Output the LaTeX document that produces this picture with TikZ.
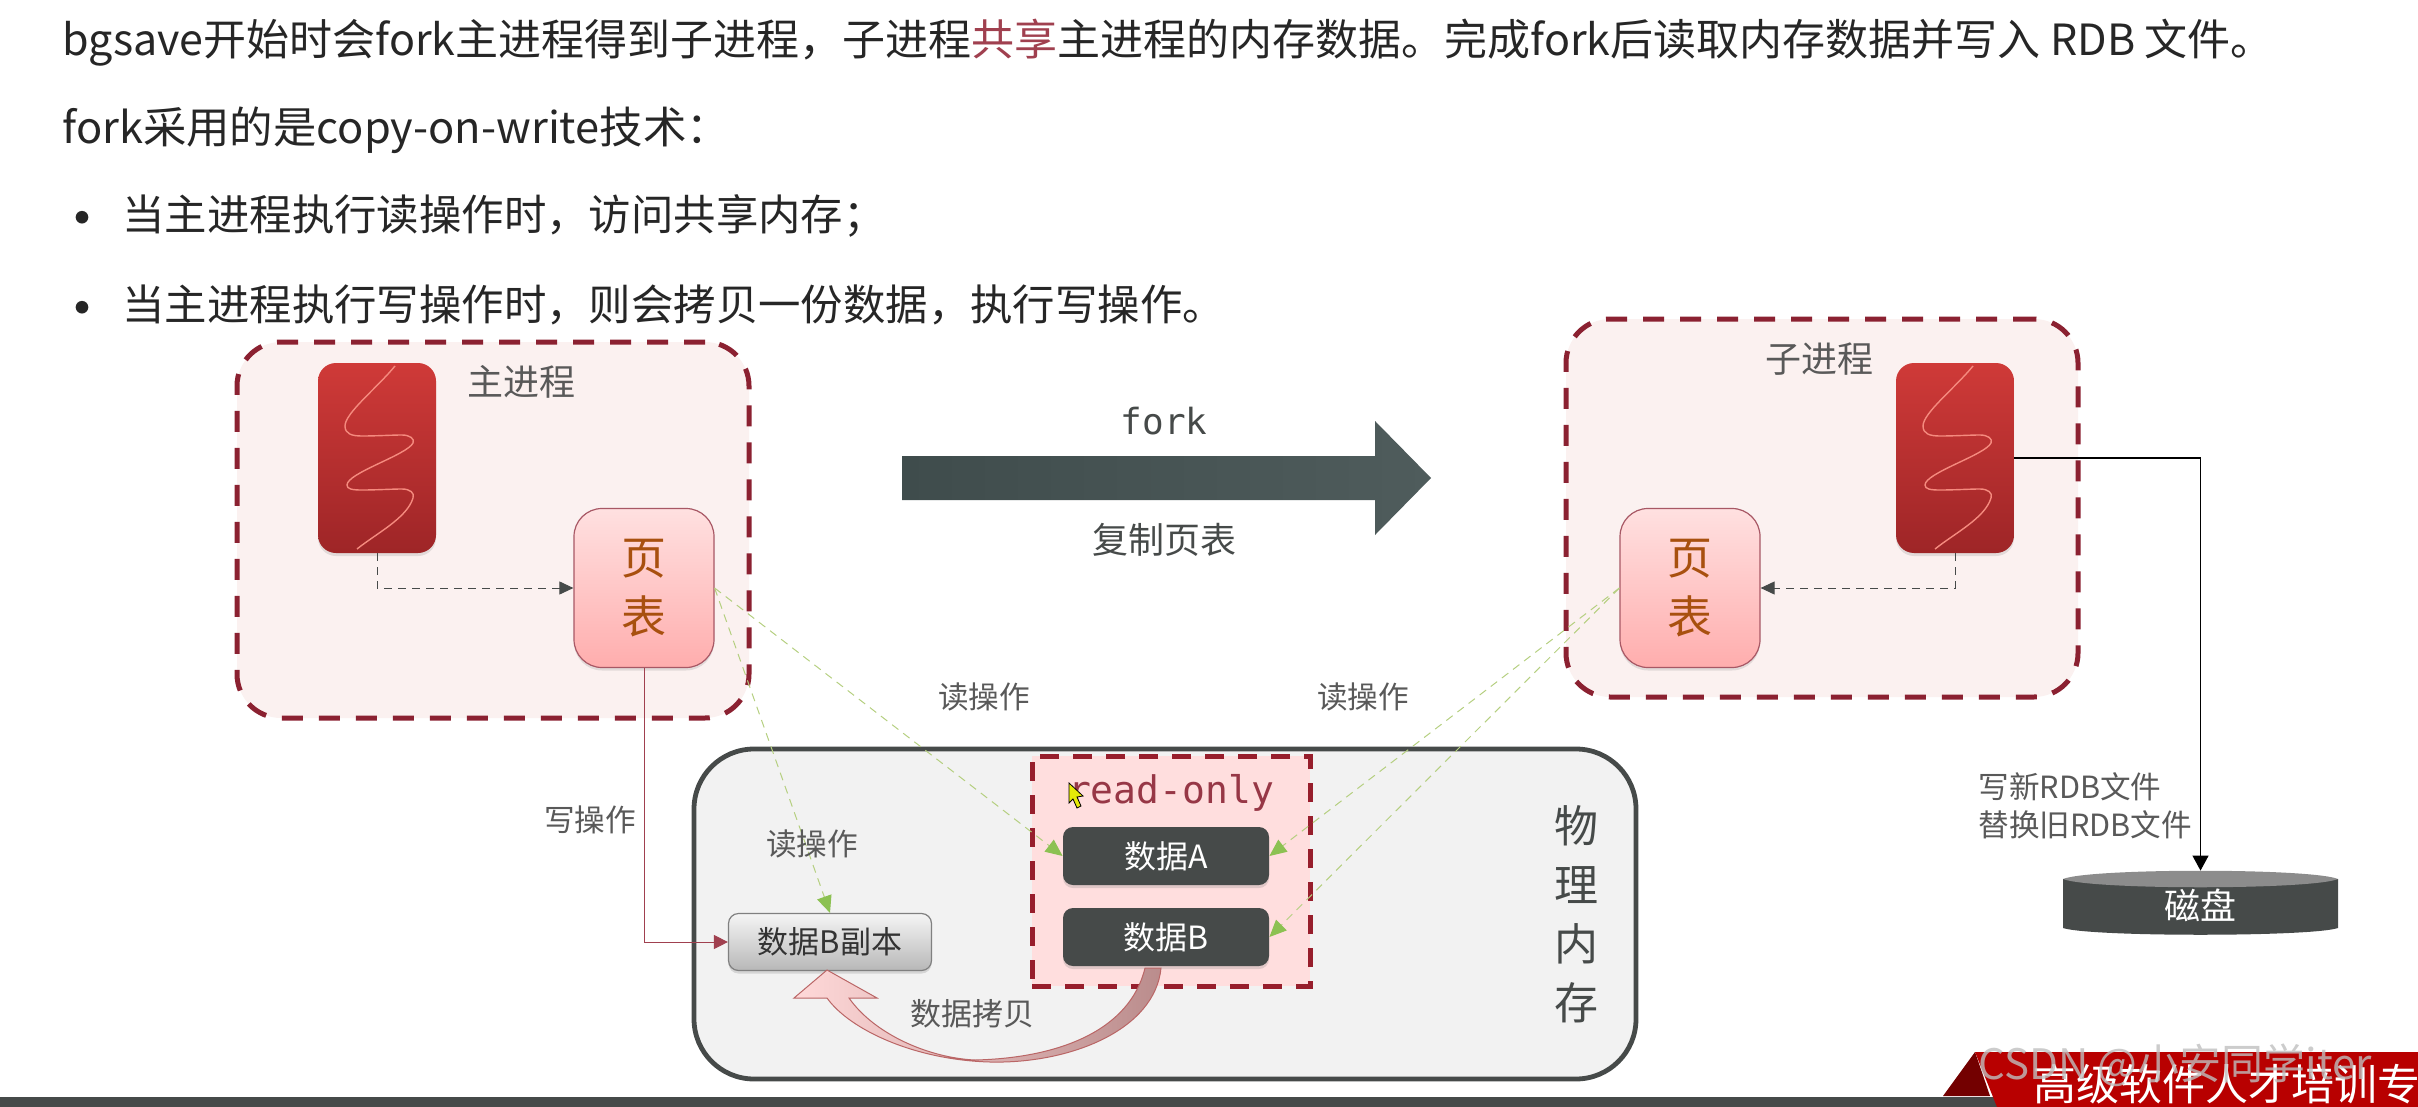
\documentclass[tikz,border=0pt]{standalone}
\usepackage{fontspec}
\setmainfont{Noto Sans CJK SC}
\setmonofont{DejaVu Sans Mono}
\usetikzlibrary{arrows.meta, shadows}

\definecolor{procdash}{HTML}{8B2131}
\definecolor{procfill}{HTML}{FBF1F0}
\definecolor{labelgray}{HTML}{595959}
\definecolor{slate}{HTML}{464A49}
\definecolor{readgreen}{HTML}{8CC152}
\definecolor{readline}{HTML}{B5CF80}
\definecolor{writered}{HTML}{A0404F}
\definecolor{tabletext}{HTML}{A8500F}
\definecolor{threadtop}{HTML}{CF3A38}
\definecolor{threadbottom}{HTML}{9E2527}
\definecolor{wavecolor}{HTML}{F58A7E}
\definecolor{forkleft}{HTML}{3F4C4C}
\definecolor{forkright}{HTML}{4F5C5C}

\tikzset{
    procbox/.style={draw=procdash, fill=procfill, line width=2.5pt, dash pattern=on 10.5pt off 8pt,
        rounded corners=22pt, minimum width=256pt, minimum height=188pt, inner sep=0pt},
    threadbox/.style={rounded corners=9pt, top color=threadtop, bottom color=threadbottom,
        minimum width=59pt, minimum height=95pt, inner sep=0pt,
        drop shadow={shadow xshift=0pt, shadow yshift=-1.5pt, opacity=.2}},
    tablebox/.style={draw=procdash!75, line width=.6pt, rounded corners=14pt, top color=red!12, bottom color=red!32,
        minimum width=70pt, minimum height=79.5pt, inner sep=0pt, align=center, text=tabletext,
        font=\fontsize{22.5}{29.5}\selectfont,
        drop shadow={shadow xshift=0pt, shadow yshift=-1.5pt, opacity=.2}},
    databox/.style={fill=slate, rounded corners=5pt, minimum width=103pt, minimum height=29pt, inner sep=0pt,
        text=white, font=\fontsize{16}{18}\selectfont,
        drop shadow={shadow xshift=0pt, shadow yshift=-1.5pt, opacity=.25}},
    notelabel/.style={text=labelgray, inner sep=0pt, font=\fontsize{15.3}{19}\selectfont},
    toptext/.style={anchor=west, inner sep=0pt, text=black!85, font=\fontsize{21.2}{24}\selectfont},
    threadline/.style={slate, line width=.5pt, dash pattern=on 4pt off 3pt,
        -{Triangle[length=7pt,width=6.5pt]}},
    readarrow/.style={readline, line width=.5pt, dash pattern=on 4pt off 3pt,
        -{Triangle[length=8.5pt,width=7.5pt,color=readgreen]}},
    threadwave/.pic={
        \draw[draw=wavecolor, line width=.7pt]
            (18,-92) .. controls (0,-70) and (-32,-45) .. (-32,-32)
            .. controls (-32,-24) and (-25,-22) .. (-15,-22)
            .. controls (0,-22) and (15,-23) .. (25,-23)
            .. controls (33,-23) and (38,-19) .. (36,-15)
            .. controls (30,-3) and (-30,15) .. (-30,27)
            .. controls (-30,31) and (-25,32) .. (-15,32)
            .. controls (0,32) and (15,31) .. (25,31)
            .. controls (33,31) and (38,35) .. (36,40)
            .. controls (30,60) and (0,75) .. (-20,91);
    }
}

\begin{document}
\begin{tikzpicture}[x=0.5pt, y=-0.5pt, >=stealth]
    \useasboundingbox (0,0) rectangle (2418,1107);

    % Top text
    \node[toptext, font=\fontsize{21.5}{24}\selectfont] (lineA) at (62,43) {bgsave开始时会fork主进程得到子进程，子进程\textcolor{writered}{共享}主进程的内存数据。完成fork后读取内存数据并写入 RDB 文件。};
    \node[toptext, font=\fontsize{21.7}{24}\selectfont] (lineB) at (62,130) {fork采用的是copy-on-write技术：};
    \node[toptext, font=\fontsize{30}{30}\selectfont] (bulletA) at (52,226) {•};
    \node[toptext] (lineC) at (122,216) {当主进程执行读操作时，访问共享内存；};
    \node[toptext, font=\fontsize{30}{30}\selectfont] (bulletB) at (52,316) {•};
    \node[toptext] (lineD) at (122,305) {当主进程执行写操作时，则会拷贝一份数据，执行写操作。};

    % Processes
    \node[procbox] (mainProc) at (493,530) {};
    \node[procbox, minimum height=189pt] (childProc) at (1822,508) {};
    \node[notelabel, font=\fontsize{18}{20}\selectfont] (mainTitle) at (521,382) {主进程};
    \node[notelabel, font=\fontsize{18}{20}\selectfont] (childTitle) at (1819,359) {子进程};

    \node[threadbox] (threadMain) at (377,458) {};
    \pic at (threadMain) {threadwave};
    \node[tablebox] (pageMain) at (644,588) {页\\表};
    \node[threadbox] (threadChild) at (1955,458) {};
    \pic at (threadChild) {threadwave};
    \node[tablebox] (pageChild) at (1690,588) {页\\表};

    \draw[threadline] (threadMain.south) |- (pageMain.west);
    \draw[threadline] (threadChild.south) |- (pageChild.east);

    % Fork arrow
    \shade[left color=forkleft, right color=forkright]
        (902,456) -- (1375,456) -- (1375,421) -- (1431,478) -- (1375,535) -- (1375,500) -- (902,500) -- cycle;
    \node[text=slate, inner sep=0pt, font=\ttfamily\fontsize{18}{20}\selectfont] (forkLabel) at (1164,421) {fork};
    \node[text=slate, inner sep=0pt, font=\fontsize{18}{20}\selectfont] (copyLabel) at (1164,540) {复制页表};

    % Physical memory
    \node[draw=slate, fill=black!5, line width=2.4pt, rounded corners=30pt, minimum width=471pt, minimum height=165pt] (physMem) at (1165,914) {};
    \node[draw=procdash!90!red, fill=red!13!white, line width=2.5pt, dash pattern=on 9.5pt off 7pt,
        minimum width=139pt, minimum height=115pt, inner sep=0pt] (readOnly) at (1171,871) {};
    \node[text=procdash!90, inner sep=0pt, font=\ttfamily\fontsize{19}{21}\selectfont] (readLabel) at (1171,793) {read-only};
    \filldraw[fill=yellow!90!green, draw=black, line width=.4pt]
        (1069,783) -- (1069,803) -- (1073,799) -- (1077,808) -- (1081,806) -- (1077,797) -- (1083,796) -- cycle;
    \node[databox] (dataA) at (1166,856) {数据A};
    \node[databox] (dataB) at (1166,937) {数据B};
    \node[draw=black!50, line width=.6pt, rounded corners=5pt, top color=black!4, bottom color=black!28,
        minimum width=101.5pt, minimum height=28.5pt, inner sep=0pt, text=black!80, font=\fontsize{15.5}{18}\selectfont,
        drop shadow={shadow xshift=0pt, shadow yshift=-1.5pt, opacity=.25}] (copyB) at (830,942) {数据B副本};
    \node[text=slate, inner sep=0pt, align=center, font=\fontsize{22}{29.5}\selectfont] (physLabel) at (1576,914) {物\\理\\内\\存};

    % Read and write lines
    \draw[readarrow] (pageMain.east) -- (dataA.west);
    \draw[readarrow] (pageMain.east) -- (copyB.north);
    \draw[readarrow] (pageChild.west) -- (dataA.east);
    \draw[readarrow] (pageChild.west) -- (dataB.east);
    \draw[writered, line width=.5pt, -{Triangle[length=7pt,width=7pt]}] (pageMain.south) |- (copyB.west);
    \node[notelabel] (readMain) at (984,697) {读操作};
    \node[notelabel] (readChild) at (1363,697) {读操作};
    \node[notelabel] (readCopy) at (812,844) {读操作};
    \node[notelabel] (writeMain) at (590,820) {写操作};

    % Copy arrow
    \draw[draw=red!55!black!60, line width=.5pt, left color=red!15, right color=red!40!black!45]
        (1145,968) -- (1161,968) .. controls (1155,1030) and (1070,1064) .. (990,1062)
        .. controls (915,1060) and (850,1030) .. (827,998) -- (794,998) -- (827,970) -- (877,998) -- (849,998)
        .. controls (875,1035) and (930,1058) .. (975,1060) .. controls (1060,1058) and (1130,1030) .. (1145,968) -- cycle;
    \node[notelabel, font=\fontsize{15.5}{18}\selectfont] (copyData) at (972,1014) {数据拷贝};

    % Disk
    \fill[slate] (2063,879) -- (2063,928) .. controls (2090,937) and (2311,937) .. (2338,928) -- (2338,879) -- cycle;
    \fill[black!45] (2063,879) .. controls (2090,868) and (2311,868) .. (2338,879)
        .. controls (2311,890) and (2090,890) .. (2063,879) -- cycle;
    \node[minimum width=137.5pt, minimum height=34pt, inner sep=0pt, text=white, font=\fontsize{18}{20}\selectfont] (disk) at (2200.5,905) {磁盘};
    \draw[black, line width=.6pt, -{Triangle[length=7.5pt,width=8pt]}] (threadChild.east) -| (disk.north);
    \node[notelabel, align=left, anchor=west] (diskLabel) at (1978,806) {写新RDB文件\\替换旧RDB文件};

    % Footer
    \fill[slate] (0,1097) rectangle (2418,1107);
    \fill[red!45!black] (1943,1096) -- (1975,1052) -- (1990,1096) -- cycle;
    \fill[red!72!black] (1975,1052) -- (2418,1052) -- (2418,1107) -- (1997,1107) -- cycle;
    \node[anchor=west, inner sep=0pt, text=white, font=\fontsize{21.5}{24}\selectfont] (bannerText) at (2033,1084) {高级软件人才培训专};
    \node[anchor=west, inner sep=0pt, text=black!25, opacity=.8, font=\fontsize{21}{24}\selectfont] (watermark) at (1978,1065) {CSDN @小安同学iter};
\end{tikzpicture}
\end{document}
